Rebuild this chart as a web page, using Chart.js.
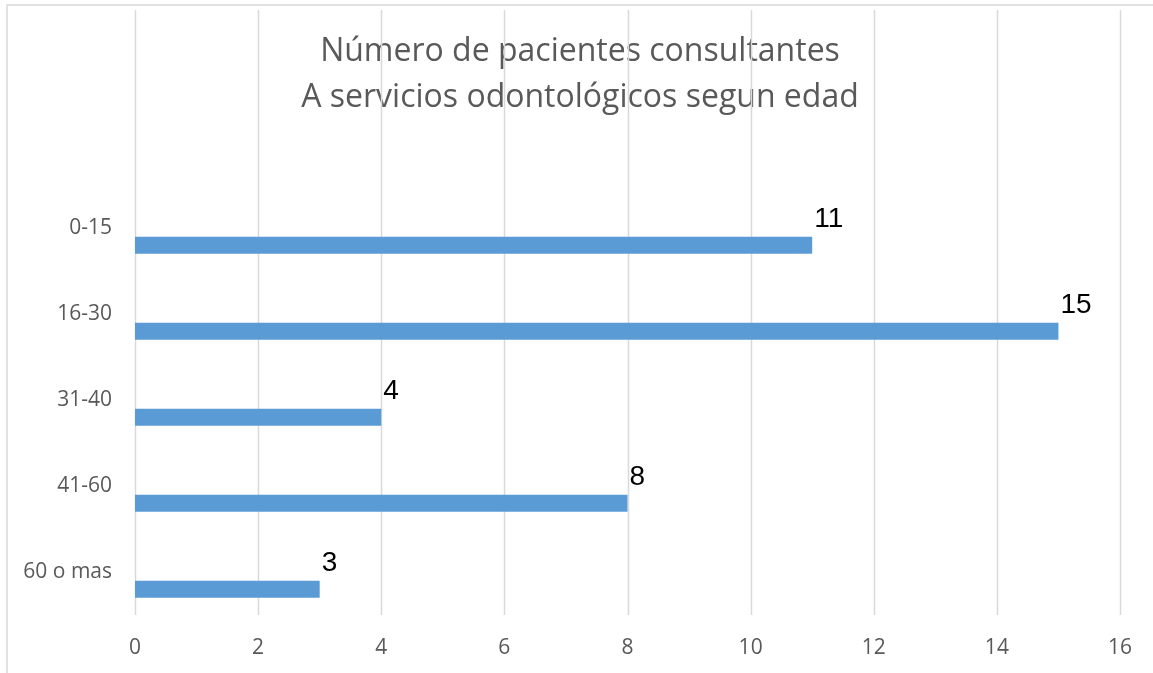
<!DOCTYPE html>
<html lang="es">
<head>
  <meta charset="UTF-8" />
  <title>Pacientes por edad</title>
  <script src="https://cdn.jsdelivr.net/npm/chart.js"></script>
  <style>
    body { margin: 0; background: #fff; }
    canvas { display: block; }
  </style>
</head>
<body>
  <canvas id="chart" width="1153" height="673"></canvas>

  <script>
    // datos
    const grupos = ['0-15', '16-30', '31-40', '41-60', '60 o mas'];
    const pacientes = [11, 15, 4, 8, 3];
    const vacio = [null, null, null, null, null];
    const tituloLineas = ['Número de pacientes consultantes', 'A servicios odontológicos segun edad'];
    const ejeMin = 0, ejeMax = 16, ejePaso = 2;

    const gris = '#595959';
    const lineaGris = '#d9d9d9';

    // marco y lineas verticales que suben hasta arriba (como en Excel)
    const fondo = {
      id: 'fondo',
      beforeDatasetsDraw(chart) {
        const ctx = chart.ctx;
        const x = chart.scales.x;
        ctx.save();
        ctx.strokeStyle = lineaGris;
        ctx.lineWidth = 1.5;
        ctx.beginPath();
        ctx.moveTo(7, 673); ctx.lineTo(7, 5); ctx.lineTo(1153, 5);
        ctx.stroke();
        for (let v = ejeMin; v <= ejeMax; v += ejePaso) {
          const px = Math.round(x.getPixelForValue(v)) + 0.5;
          ctx.beginPath();
          ctx.moveTo(px, 10);
          ctx.lineTo(px, chart.chartArea.bottom);
          ctx.stroke();
        }
        ctx.restore();
      }
    };

    const etiquetas = {
      id: 'etiquetas',
      afterDatasetsDraw(chart) {
        const ctx = chart.ctx;
        const meta = chart.getDatasetMeta(1);
        ctx.save();
        ctx.fillStyle = '#000';
        ctx.font = '28px "Liberation Sans", Arial, sans-serif';
        ctx.textAlign = 'left';
        ctx.textBaseline = 'alphabetic';
        meta.data.forEach((bar, i) => {
          ctx.fillText(String(pacientes[i]), bar.x + 2, bar.y - bar.height / 2 - 10);
        });
        ctx.restore();
      }
    };

    new Chart(document.getElementById('chart'), {
      type: 'bar',
      data: {
        labels: grupos,
        datasets: [
          { label: '', data: vacio, backgroundColor: 'rgba(0,0,0,0)' },
          { label: 'Pacientes', data: pacientes, backgroundColor: '#5b9bd5', borderWidth: 0 }
        ]
      },
      options: {
        indexAxis: 'y',
        responsive: false,
        animation: false,
        categoryPercentage: 0.8,
        barPercentage: 0.494,
        layout: { padding: { left: 8, right: 1, top: 0, bottom: 0 } },
        plugins: {
          legend: { display: false },
          tooltip: { enabled: false },
          title: {
            display: true,
            text: tituloLineas,
            color: gris,
            font: { family: '"Open Sans"', size: 32, weight: 'normal', lineHeight: 1.44 },
            padding: { top: 29, bottom: 64 }
          }
        },
        scales: {
          x: {
            min: ejeMin,
            max: ejeMax,
            grid: { display: false, drawTicks: false },
            border: { display: false },
            afterFit(scale) { scale.height = 58; },
            ticks: {
              stepSize: ejePaso,
              color: gris,
              padding: 20,
              font: { family: '"Open Sans"', size: 21 }
            }
          },
          y: {
            grid: { display: false, drawTicks: false },
            border: { display: false },
            afterFit(scale) { scale.width = 127; },
            ticks: {
              color: gris,
              padding: 23,
              font: { family: '"Open Sans"', size: 21 }
            }
          },
          // eje vacio a la derecha, solo deja el margen de Excel
          margen: {
            axis: 'y',
            position: 'right',
            grid: { display: false, drawTicks: false },
            border: { display: false },
            ticks: { display: false },
            afterFit(scale) { scale.width = 32; }
          }
        }
      },
      plugins: [fondo, etiquetas]
    });
  </script>
</body>
</html>
